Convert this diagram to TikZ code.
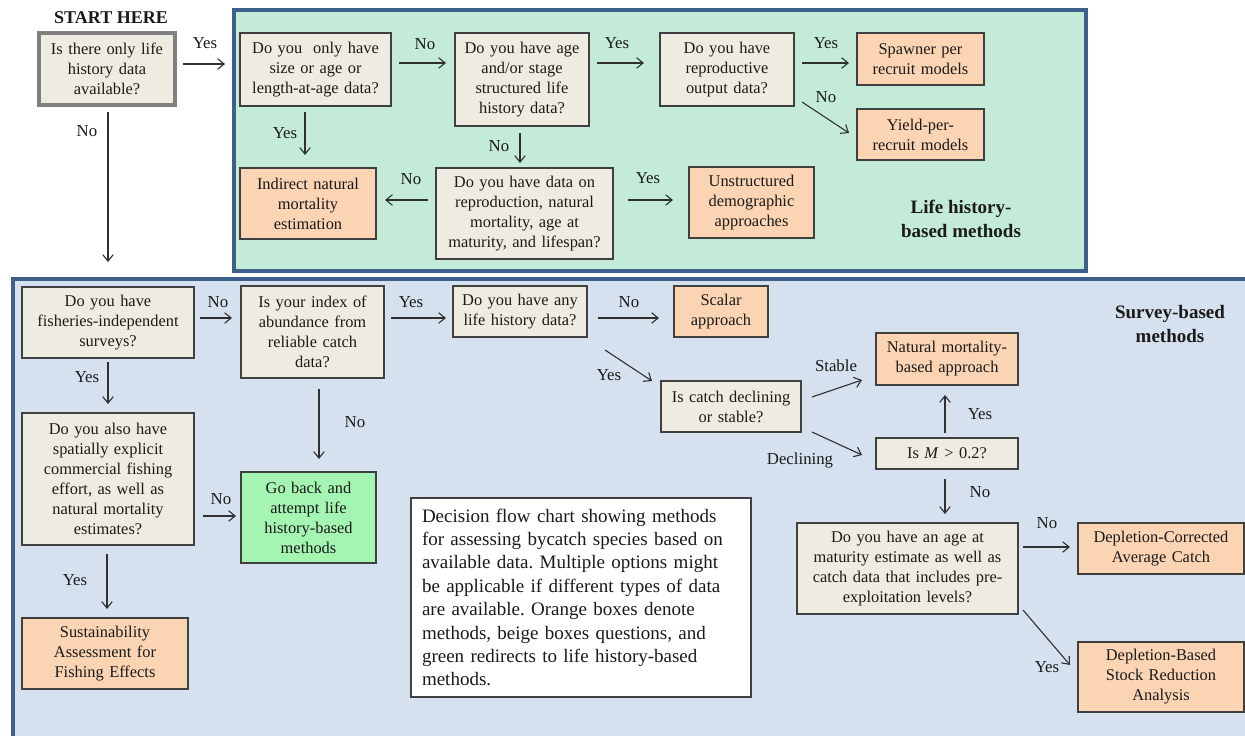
\documentclass[tikz,border=0pt]{standalone}
\usepackage{fontspec}
\setmainfont{Liberation Serif}
\usetikzlibrary{arrows.meta}
\definecolor{beigefill}{HTML}{EEECE1}
\definecolor{orangefill}{HTML}{FBD4B4}
\definecolor{greenfill}{HTML}{A4F4B2}
\definecolor{mintpanel}{HTML}{C3EBD7}
\definecolor{bluepanel}{HTML}{D6E1EF}
\definecolor{panelline}{HTML}{3D5F8C}
\definecolor{boxline}{HTML}{404040}
\definecolor{startline}{HTML}{808080}
\definecolor{inkcol}{HTML}{1A1A1A}
\definecolor{arrowcol}{HTML}{303030}
\frenchspacing
\begin{document}
\begin{tikzpicture}[x=1pt,y=-1pt,
  every node/.style={outer sep=0pt, text=inkcol},
  basebox/.style={draw=boxline, line width=1.2pt, align=center, inner sep=2pt, font=\fontsize{16.4}{20}\selectfont},
  qbox/.style={basebox, fill=beigefill},
  mbox/.style={basebox, fill=orangefill},
  gbox/.style={basebox, fill=greenfill},
  lbl/.style={inner sep=0pt, font=\fontsize{16.8}{19}\selectfont},
  ttl/.style={inner sep=0pt, align=center, font=\bfseries\fontsize{19}{23.5}\selectfont},
  arr/.style={draw=arrowcol, line width=1.1pt, -{Straight Barb[length=6.5pt,width=10.5pt]}},
  panel/.style={draw=panelline, line width=4pt}
]
\useasboundingbox (0,0) rectangle (1245,736);
\fill[white] (0,0) rectangle (1245,736);
\begin{scope}
\clip (0,0) rectangle (1245,736);
\draw[panel, fill=mintpanel] (234,10) rectangle (1086,271);
\draw[panel, fill=bluepanel] (13,279) rectangle (1270,760);
\end{scope}

% ---- start
\node[inner sep=0pt, font=\bfseries\fontsize{18}{21}\selectfont] (starthere) at (111,18) {START HERE};
\node[basebox, fill=beigefill, draw=startline, line width=4pt, minimum width=136pt, minimum height=72pt, text width=128pt] (start) at (107,69) {Is there only life\\ history data\\ available?};

% ---- life history panel
\node[qbox, minimum width=151pt, minimum height=73pt, text width=145pt] (q1) at (315.5,69.5) {Do you\ \ only have\\ size or age or\\ length-at-age data?};
\node[qbox, minimum width=134pt, minimum height=93pt, text width=128pt] (q2) at (522,79.5) {Do you have age\\ and/or stage\\ structured life\\ history data?};
\node[qbox, minimum width=134pt, minimum height=73pt, text width=128pt] (q3) at (727,69.5) {Do you have\\ reproductive\\ output data?};
\node[mbox, minimum width=127pt, minimum height=52pt, text width=121pt] (m1) at (920.5,59) {Spawner per\\ recruit models};
\node[mbox, minimum width=127pt, minimum height=51pt, text width=121pt] (m2) at (920.5,134.5) {Yield-per-\\ recruit models};
\node[mbox, minimum width=136pt, minimum height=71pt, text width=130pt] (m3) at (308,203.5) {Indirect natural\\ mortality\\ estimation};
\node[qbox, minimum width=177pt, minimum height=91pt, text width=171pt] (q4) at (524.5,213.5) {Do you have data on\\ reproduction, natural\\ mortality, age at\\ maturity, and lifespan?};
\node[mbox, minimum width=125pt, minimum height=71pt, text width=119pt] (m4) at (751.5,202.5) {Unstructured\\ demographic\\ approaches};
\node[ttl] (lhtitle) at (961,219) {Life history-\\ based methods};

% ---- survey panel
\node[qbox, minimum width=172pt, minimum height=71pt, text width=166pt] (q5) at (108,322.5) {Do you have\\ fisheries-independent\\ surveys?};
\node[qbox, minimum width=143pt, minimum height=92pt, text width=137pt] (q6) at (312.5,332) {Is your index of\\ abundance from\\ reliable catch\\ data?};
\node[qbox, minimum width=172pt, minimum height=132pt, text width=166pt] (q7) at (108,479) {Do you also have\\ spatially explicit\\ commercial fishing\\ effort, as well as\\ natural mortality\\ estimates?};
\node[gbox, minimum width=135pt, minimum height=91pt, text width=129pt] (g1) at (308.5,517.5) {Go back and\\ attempt life\\ history-based\\ methods};
\node[mbox, minimum width=166pt, minimum height=71pt, text width=160pt] (m5) at (105,653.5) {Sustainability\\ Assessment for\\ Fishing Effects};
\node[qbox, minimum width=134pt, minimum height=51pt, text width=128pt] (q8) at (520,311.5) {Do you have any\\ life history data?};
\node[mbox, minimum width=94pt, minimum height=51pt, text width=88pt] (m6) at (721,311.5) {Scalar\\ approach};
\node[qbox, minimum width=140pt, minimum height=51pt, text width=134pt] (q9) at (731,406.5) {Is catch declining\\ or stable?};
\node[mbox, minimum width=142pt, minimum height=52pt, text width=136pt] (m7) at (947,359) {Natural mortality-\\ based approach};
\node[qbox, minimum width=142pt, minimum height=31pt, text width=136pt] (q10) at (947,453.5) {Is \textit{M} > 0.2?};
\node[qbox, minimum width=221pt, minimum height=91pt, text width=215pt] (q11) at (907.5,568.5) {Do you have an age at\\ maturity estimate as well as\\ catch data that includes pre-\\ exploitation levels?};
\node[mbox, minimum width=166pt, minimum height=51pt, text width=160pt] (m8) at (1161,548.5) {Depletion-Corrected\\ Average Catch};
\node[mbox, minimum width=166pt, minimum height=70pt, text width=160pt] (m9) at (1161,677) {Depletion-Based\\ Stock Reduction\\ Analysis};
\node[ttl] (svtitle) at (1170,324) {Survey-based\\ methods};

\node[draw=boxline, line width=1.1pt, fill=white, anchor=north west, align=left, inner xsep=11pt, inner ysep=4pt, minimum width=340pt, minimum height=199pt, text width=318pt, font=\fontsize{19}{23.4}\selectfont] (caption) at (411,498) {Decision flow chart showing methods\\ for assessing bycatch species based on\\ available data. Multiple options might\\ be applicable if different types of data\\ are available. Orange boxes denote\\ methods, beige boxes questions, and\\ green redirects to life history-based\\ methods.};

% ---- connectors, top
\draw[arr] ([shift={(8,-5)}]start.east) -- ([shift={(-15,-5.5)}]q1.west);
\draw[arr] ([shift={(1,7)}]start.south) -- ([shift={(0,-25)}]q5.north);
\draw[arr] ([shift={(8,-6.5)}]q1.east) -- ([shift={(-9,-16.5)}]q2.west);
\draw[arr] ([shift={(8,-16.5)}]q2.east) -- ([shift={(-16,-6.5)}]q3.west);
\draw[arr] ([shift={(8,-6.5)}]q3.east) -- ([shift={(-8,4)}]m1.west);
\draw[arr] ([shift={(8,32.5)}]q3.east) -- ([shift={(-8,-1.5)}]m2.west);
\draw[arr] ([shift={(-10.5,6)}]q1.south) -- ([shift={(-3,-13)}]m3.north);
\draw[arr] ([shift={(-2,7)}]q2.south) -- ([shift={(-4.5,-5)}]q4.north);
\draw[arr] ([shift={(-8,-13.5)}]q4.west) -- ([shift={(9,-3.5)}]m3.east);
\draw[arr] ([shift={(15,-13.5)}]q4.east) -- ([shift={(-16,-2.5)}]m4.west);

% ---- connectors, bottom
\draw[arr] ([shift={(6,-4.5)}]q5.east) -- ([shift={(-9,-14)}]q6.west);
\draw[arr] ([shift={(7,-14)}]q6.east) -- ([shift={(-7,6.5)}]q8.west);
\draw[arr] ([shift={(0,4)}]q5.south) -- ([shift={(0,-9)}]q7.north);
\draw[arr] ([shift={(9,37)}]q7.east) -- ([shift={(-5,-1.5)}]g1.west);
\draw[arr] ([shift={(6.5,11)}]q6.south) -- ([shift={(10.5,-13)}]g1.north);
\draw[arr] ([shift={(-1,9)}]q7.south) -- ([shift={(2,-9)}]m5.north);
\draw[arr] ([shift={(11,6.5)}]q8.east) -- ([shift={(-15,6.5)}]m6.west);
\draw[arr] ([shift={(18,13)}]q8.south east) -- ([shift={(-9,0)}]q9.north west);
\draw[arr] ([shift={(11,-9.5)}]q9.east) -- ([shift={(-14,21)}]m7.west);
\draw[arr] ([shift={(11,0)}]q9.south east) -- ([shift={(-14,1.5)}]q10.west);
\draw[arr] ([shift={(-2,-5)}]q10.north) -- ([shift={(-2,10)}]m7.south);
\draw[arr] ([shift={(-2,10)}]q10.south) -- ([shift={(37.5,-9)}]q11.north);
\draw[arr] ([shift={(5,-21.5)}]q11.east) -- ([shift={(-8,-1.5)}]m8.west);
\draw[arr] ([shift={(5,-4)}]q11.south east) -- ([shift={(-8,-12)}]m9.west);

% ---- labels
\node[lbl] (l1) at (205,43) {Yes};
\node[lbl] (l2) at (87,131) {No};
\node[lbl] (l3) at (425,44) {No};
\node[lbl] (l4) at (617,43) {Yes};
\node[lbl] (l5) at (826,43) {Yes};
\node[lbl] (l6) at (826,97) {No};
\node[lbl] (l7) at (285,133) {Yes};
\node[lbl] (l8) at (499,146) {No};
\node[lbl] (l9) at (411,179) {No};
\node[lbl] (l10) at (648,178) {Yes};
\node[lbl] (l11) at (218,302) {No};
\node[lbl] (l12) at (411,302) {Yes};
\node[lbl] (l13) at (87,377) {Yes};
\node[lbl] (l14) at (221,499) {No};
\node[lbl] (l15) at (355,422) {No};
\node[lbl] (l16) at (75,580) {Yes};
\node[lbl] (l17) at (629,302) {No};
\node[lbl] (l18) at (609,375) {Yes};
\node[lbl] (l19) at (836,366) {Stable};
\node[lbl] (l20) at (800,460) {Declining};
\node[lbl] (l21) at (980,414) {Yes};
\node[lbl] (l22) at (980,492) {No};
\node[lbl] (l23) at (1047,523) {No};
\node[lbl] (l24) at (1047,667) {Yes};
\end{tikzpicture}
\end{document}
